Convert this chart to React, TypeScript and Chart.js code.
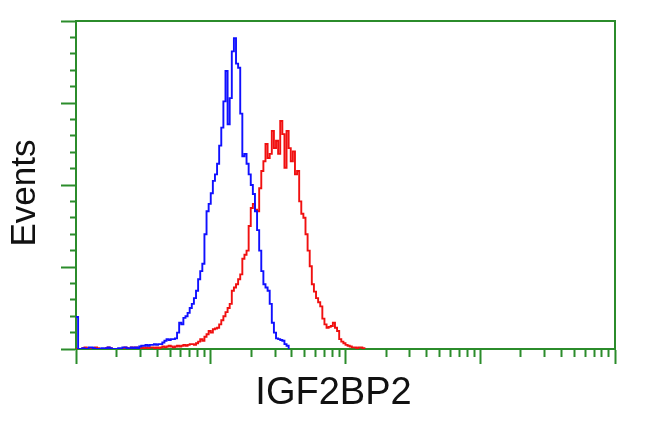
import React, { useEffect, useRef } from 'react';
import { Chart, registerables } from 'chart.js';

Chart.register(...registerables);

// Histogram channels: 64 channels per decade, 4 decades (10^0 .. 10^4)
const CHANNELS_PER_DECADE = 64;
const DECADES = [0, 1, 2, 3, 4];
const MINOR_MULTIPLIERS = [2, 3, 4, 5, 6, 7, 8, 9];
const Y_MAX = 400;
const Y_TICK_STEP = 20;
const Y_MAJOR_STEP = 100;

const X_TITLE = 'IGF2BP2';
const Y_TITLE = 'Events';

// Counts per channel, starting at channel 0
const blueCounts = [
  39,
  0, 0, 1, 0, 0, 2, 2, 1, 0,
  0, 0, 1, 0, 1, 2, 1, 0, 0, 0,
  1, 0, 2, 2, 1, 0, 2, 1, 2, 1,
  3, 4, 4, 5, 4, 5, 5, 6, 5, 6,
  6, 8, 10, 12, 11, 12, 12, 13, 20, 32,
  30, 38, 40, 44, 50, 55, 62, 71, 85, 95,
  104, 140, 168, 177, 190, 205, 213, 226, 248, 270,
  302, 339, 274, 306, 363, 379, 348, 343, 287, 235,
  238, 226, 213, 200, 189, 168, 145, 120, 95, 79,
  75, 71, 55, 32, 20, 13, 12, 11, 10, 6,
  4, 0,
];

const redCounts = [
  0, 0, 0, 1, 2, 1, 0, 0, 1, 2,
  1, 0, 0, 0, 1, 2, 1, 0, 0, 0,
  0, 0, 1, 2, 1, 0, 2, 1, 2, 0,
  1, 2, 1, 2, 1, 2, 2, 1, 2, 1,
  2, 3, 2, 3, 4, 3, 2, 3, 4, 3,
  4, 5, 4, 5, 6, 6, 5, 7, 9, 12,
  10, 15, 18, 22, 20, 24, 25, 26, 30, 35,
  40, 45, 50, 55, 71, 75, 79, 85, 91, 110,
  115, 120, 150, 172, 177, 170, 168, 196, 217, 229,
  250, 233, 238, 266, 245, 254, 238, 278, 262, 221,
  266, 245, 229, 241, 213, 217, 180, 165, 160, 140,
  120, 101, 79, 70, 62, 57, 52, 37, 30, 26,
  27, 28, 32, 26, 22, 12, 9, 7, 5, 4,
  3, 2, 2, 1, 2, 2, 1, 0,
];

const GREEN = '#2b8c2b';
const BLUE = '#1010ff';
const RED = '#f01010';
const FONT_FAMILY = '"Liberation Sans", Arial, Helvetica, sans-serif';

function toPoints(counts: number[]) {
  return counts.map((y, i) => ({ x: i, y }));
}

function buildXTicks() {
  const ticks: { value: number; major: boolean }[] = [];
  DECADES.forEach((d) => {
    ticks.push({ value: d * CHANNELS_PER_DECADE, major: true });
    if (d < DECADES[DECADES.length - 1]) {
      MINOR_MULTIPLIERS.forEach((m) => {
        ticks.push({ value: (d + Math.log10(m)) * CHANNELS_PER_DECADE, major: false });
      });
    }
  });
  return ticks;
}

// Axis titles drawn relative to the chart area (slightly off-centre as in the reference)
const axisTitlesPlugin = {
  id: 'axisTitles',
  afterDraw(chart: any) {
    const { ctx, chartArea } = chart;
    ctx.save();
    ctx.fillStyle = '#111111';
    ctx.textAlign = 'center';
    ctx.textBaseline = 'middle';
    ctx.font = `38px ${FONT_FAMILY}`;
    ctx.fillText(X_TITLE, (chartArea.left + chartArea.right) / 2 - 12, chartArea.bottom + 45);
    ctx.translate(chartArea.left - 51, (chartArea.top + chartArea.bottom) / 2 + 8);
    ctx.rotate(-Math.PI / 2);
    ctx.font = `35px ${FONT_FAMILY}`;
    ctx.fillText(Y_TITLE, 0, 0);
    ctx.restore();
  },
};

export default function App() {
  const canvasRef = useRef<HTMLCanvasElement | null>(null);

  useEffect(() => {
    if (!canvasRef.current) return;
    const xTicks = buildXTicks();
    const maxChannel = DECADES[DECADES.length - 1] * CHANNELS_PER_DECADE;

    const chart = new Chart(canvasRef.current, {
      type: 'line',
      data: {
        datasets: [
          {
            label: 'Control',
            data: toPoints(blueCounts),
            borderColor: BLUE,
            borderWidth: 1.9,
            pointRadius: 0,
            stepped: true,
            fill: false,
          },
          {
            label: 'IGF2BP2',
            data: toPoints(redCounts),
            borderColor: RED,
            borderWidth: 1.9,
            pointRadius: 0,
            stepped: true,
            fill: false,
          },
        ],
      },
      options: {
        animation: false,
        responsive: false,
        devicePixelRatio: 1,
        layout: { padding: 0 },
        plugins: {
          legend: { display: false },
          tooltip: { enabled: false },
        },
        scales: {
          x: {
            type: 'linear',
            position: 'bottom',
            min: 0,
            max: maxChannel,
            afterBuildTicks: (s: any) => {
              s.ticks = xTicks.map((t) => ({ ...t }));
            },
            afterFit: (s: any) => {
              s.height = 82;
            },
            ticks: { display: false },
            grid: {
              drawOnChartArea: false,
              drawTicks: true,
              tickLength: 15,
              tickWidth: 2,
              tickColor: GREEN,
              tickBorderDash: (ctx: any) => (ctx.tick && ctx.tick.major ? [] : [7, 100]),
            },
            border: { color: GREEN, width: 2 },
          },
          xTop: {
            type: 'linear',
            position: 'top',
            min: 0,
            max: maxChannel,
            afterFit: (s: any) => {
              s.height = 21;
            },
            ticks: { display: false },
            grid: { drawOnChartArea: false, drawTicks: false },
            border: { color: GREEN, width: 2 },
          },
          y: {
            type: 'linear',
            position: 'left',
            min: 0,
            max: Y_MAX,
            afterFit: (s: any) => {
              s.width = 76;
            },
            ticks: { display: false, stepSize: Y_TICK_STEP },
            grid: {
              drawOnChartArea: false,
              drawTicks: true,
              tickLength: 15,
              tickWidth: 2,
              tickColor: GREEN,
              tickBorderDash: (ctx: any) =>
                ctx.tick && ctx.tick.value % Y_MAJOR_STEP === 0 ? [] : [0, 9, 6, 100],
            },
            border: { color: GREEN, width: 2 },
          },
          yRight: {
            type: 'linear',
            position: 'right',
            min: 0,
            max: Y_MAX,
            afterFit: (s: any) => {
              s.width = 35;
            },
            ticks: { display: false },
            grid: { drawOnChartArea: false, drawTicks: false },
            border: { color: GREEN, width: 2 },
          },
        },
      } as any,
      plugins: [axisTitlesPlugin],
    });

    return () => {
      chart.destroy();
    };
  }, []);

  return (
    <div style={{ position: 'absolute', left: 0, top: 0, width: 650, height: 431, background: '#ffffff' }}>
      <canvas ref={canvasRef} width={650} height={431} style={{ display: 'block', width: 650, height: 431 }} />
    </div>
  );
}
